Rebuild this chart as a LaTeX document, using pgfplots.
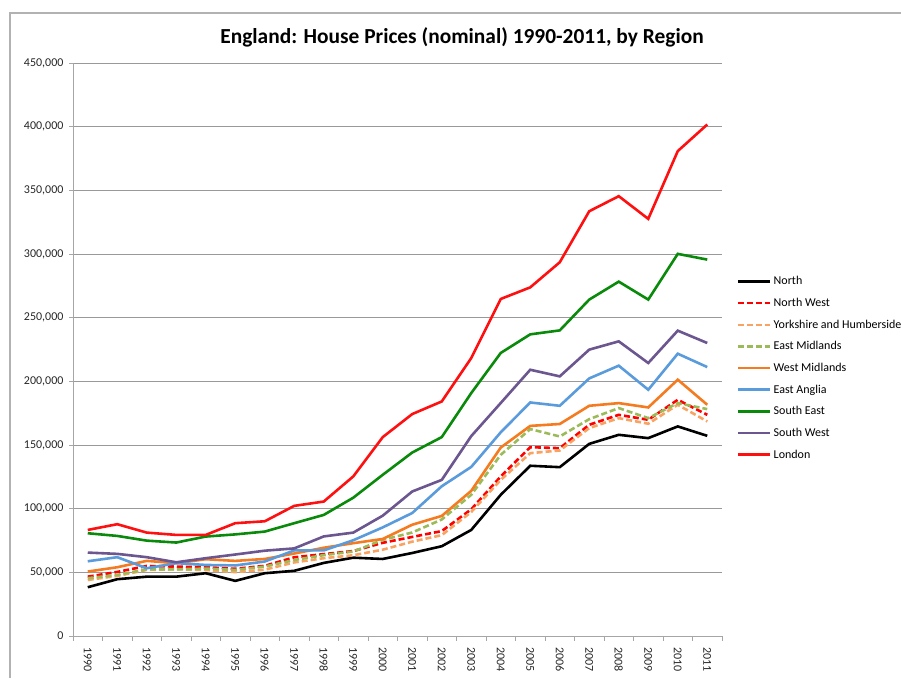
\documentclass[border=0pt]{standalone}
\usepackage{pgfplots}
\pgfplotsset{compat=1.18}
\usepackage{fontspec}
\setmainfont{Carlito}
\definecolor{cNorth}{HTML}{000000}
\definecolor{cNW}{HTML}{FF0000}
\definecolor{cYork}{HTML}{F9A362}
\definecolor{cEM}{HTML}{9BBB59}
\definecolor{cWM}{HTML}{F47B20}
\definecolor{cEA}{HTML}{5A9BDC}
\definecolor{cSE}{HTML}{0A8A0A}
\definecolor{cSW}{HTML}{6B5690}
\definecolor{cLon}{HTML}{FF1010}
\pgfplotstableread{
x North NW York EM WM EA SE SW Lon
0  38300 46600 44000 45400 50600 58700 80700 65500 83300
1  44600 50300 47200 48000 54000 61900 78600 64500 87800
2  46600 55000 51900 52400 59000 53200 74900 61900 81200
3  46600 54500 52400 52400 57200 57200 73400 57900 79400
4  49300 54000 51900 52900 60300 55800 78100 61100 79400
5  43300 52800 50200 51900 59000 55400 79800 64000 88600
6  49300 55100 52100 54500 60500 58500 82000 67000 90100
7  51200 61800 57800 59700 64800 67200 88600 68800 102200
8  57400 64300 61100 63500 69300 67200 95100 78200 105600
9  61500 66700 63400 66300 72900 75200 108600 81200 125300
10 60500 73200 67800 75500 76200 85300 126600 94500 156200
11 65200 77800 74100 81300 87400 96600 144100 113500 174300
12 70500 82400 79200 91500 94300 117600 156200 122600 184200
13 83300 99500 97400 110900 114000 132800 190800 157000 218300
14 110900 125300 122600 142300 148000 160000 222300 183000 264700
15 133700 148300 143600 162500 165000 183400 236900 209100 273800
16 132600 147500 145700 156700 166500 180800 240000 203900 293500
17 150900 165900 163300 170300 180800 202300 264200 224900 333600
18 158000 173700 171100 179000 182900 212300 278300 231400 345400
19 155400 169800 166700 171100 179500 193400 264200 214400 327600
20 164600 185500 181600 182900 201300 221700 300100 239800 380800
21 157200 173700 168500 178200 181600 211200 295600 230100 401700
}\data
\begin{document}
\begin{tikzpicture}[x=1pt,y=1pt]
\useasboundingbox (0,0) rectangle (901,678);
\begin{axis}[
  at={(73pt,42pt)}, anchor=south west,
  scale only axis, width=649pt, height=573pt,
  xmin=-0.5, xmax=21.5, ymin=0, ymax=450000,
  axis x line*=bottom, axis y line*=left,
  axis line style={black!35, line width=0.9pt, -},
  ymajorgrids, grid style={black!40, line width=0.9pt},
  xtick={0,...,21},
  xticklabels={1990,1991,1992,1993,1994,1995,1996,1997,1998,1999,2000,2001,2002,2003,2004,2005,2006,2007,2008,2009,2010,2011},
  minor xtick={-0.5,0.5,...,21.5},
  major x tick style={draw=none},
  minor x tick style={black!35, line width=0.9pt},
  major y tick style={black!35, line width=0.9pt},
  tick align=outside, major tick length=4pt, minor tick length=5pt,
  ytick={0,50000,...,450000},
  scaled y ticks=false,
  /pgf/number format/fixed,
  /pgf/number format/1000 sep={,},
  /pgf/number format/assume math mode=true,
  yticklabel style={font=\fontsize{12}{14}\selectfont, text=black!85, xshift=-2pt},
  xticklabel style={font=\fontsize{12}{14}\selectfont, text=black!85, rotate=-90, anchor=west},
  xticklabel shift=4pt,
  legend style={draw=none, fill=none, at={(1.023,0.631)}, anchor=north west,
    font=\fontsize{12}{14}\selectfont, row sep=7.8pt, inner sep=0pt},
  legend cell align=left,
  legend image code/.code={\draw[#1] (0pt,0pt) -- (32pt,0pt);},
  every axis plot/.append style={line width=2.6pt},
  clip=false,
]
\addplot[cNorth] table[x=x,y=North]{\data};
\addlegendentry{North}
\addplot[cNW, dash pattern=on 6pt off 3pt] table[x=x,y=NW]{\data};
\addlegendentry{North West}
\addplot[cYork, dash pattern=on 6pt off 3pt] table[x=x,y=York]{\data};
\addlegendentry{Yorkshire and Humberside}
\addplot[cEM, dash pattern=on 6pt off 3pt] table[x=x,y=EM]{\data};
\addlegendentry{East Midlands}
\addplot[cWM] table[x=x,y=WM]{\data};
\addlegendentry{West Midlands}
\addplot[cEA] table[x=x,y=EA]{\data};
\addlegendentry{East Anglia}
\addplot[cSE] table[x=x,y=SE]{\data};
\addlegendentry{South East}
\addplot[cSW] table[x=x,y=SW]{\data};
\addlegendentry{South West}
\addplot[cLon] table[x=x,y=Lon]{\data};
\addlegendentry{London}
\end{axis}
\node[anchor=base, font=\bfseries\fontsize{21.4}{24}\selectfont] at (462,634) {England: House Prices (nominal) 1990-2011, by Region};
\draw[black!30, line width=1.5pt] (10,0) -- (10,665) -- (901,665);
\end{tikzpicture}
\end{document}
